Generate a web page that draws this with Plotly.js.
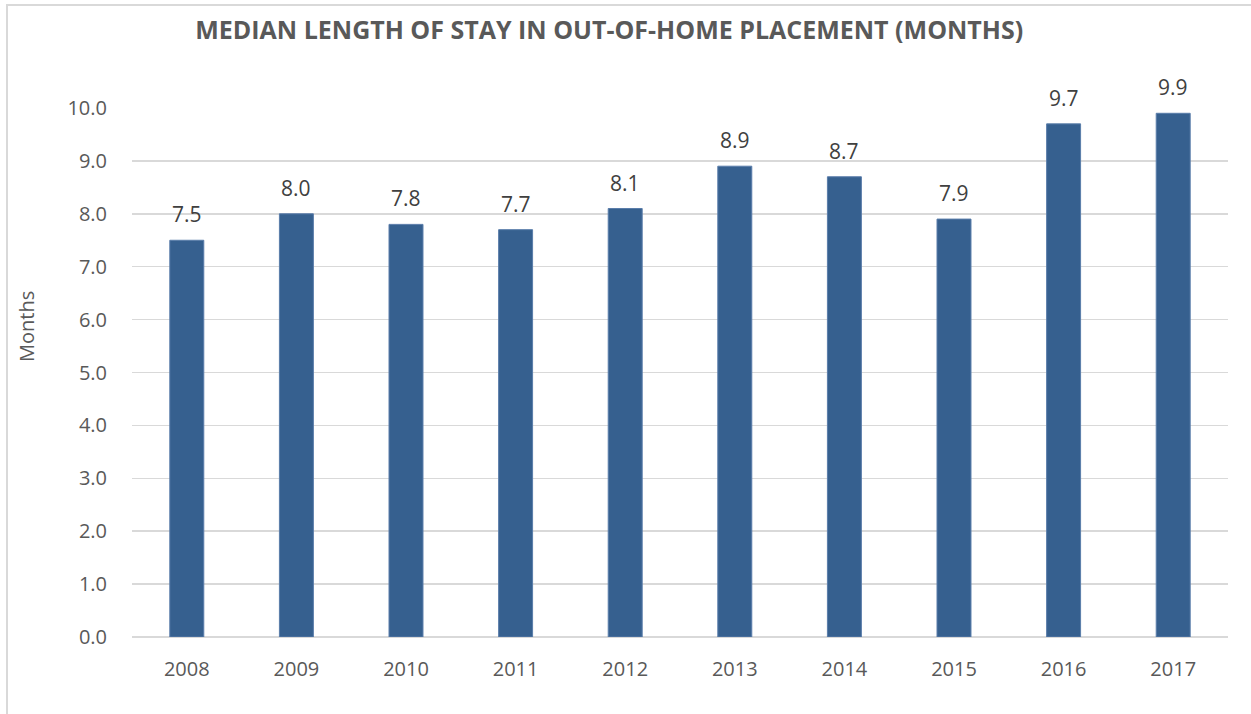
<!DOCTYPE html>
<html>
<head>
<meta charset="utf-8">
<script src="https://cdn.plot.ly/plotly-3.0.1.min.js"></script>
<style>
html,body{margin:0;padding:0;background:#fff;}
#frame{position:absolute;left:6px;top:4px;width:1260px;height:720px;border:2px solid #d9d9d9;box-sizing:border-box;}
#chart{position:absolute;left:0;top:0;width:1251px;height:714px;}
</style>
</head>
<body>
<div id="frame"></div>
<div id="chart"></div>
<script>
const years = ["2008","2009","2010","2011","2012","2013","2014","2015","2016","2017"];
const months = [7.5, 8.0, 7.8, 7.7, 8.1, 8.9, 8.7, 7.9, 9.7, 9.9];
const yTicks = [0,1,2,3,4,5,6,7,8,9,10];
const titleText = "MEDIAN LENGTH OF STAY IN OUT-OF-HOME PLACEMENT (MONTHS)";
const yTitle = "Months";

const font = "Open Sans, Lato, sans-serif";

const labelAnnotations = years.map((yr, i) => ({
  x: i, y: months[i], xref: "x", yref: "y",
  text: months[i].toFixed(1), showarrow: false,
  yanchor: "middle", xanchor: "center", yshift: 26,
  font: {family: font, size: 21, color: "#404040"}
}));

Plotly.newPlot("chart", [{
  type: "bar",
  x: years,
  y: months,
  marker: {color: "#36608f", line: {color: "#5a7daa", width: 1}},
  hoverinfo: "x+y"
}], {
  width: 1251, height: 714,
  paper_bgcolor: "rgba(0,0,0,0)",
  plot_bgcolor: "rgba(0,0,0,0)",
  margin: {l: 132, r: 23, t: 108, b: 77},
  bargap: 0.69,
  showlegend: false,
  title: {text: "<b>" + titleText + "</b>", x: 0.487, xanchor: "center", y: 0.958, yanchor: "middle",
          font: {family: font, size: 25, color: "#595959"}},
  annotations: labelAnnotations.concat([{
    xref: "paper", yref: "paper", x: -0.0967, y: 0.586, xanchor: "center", yanchor: "middle",
    text: yTitle, textangle: -90, showarrow: false,
    font: {family: font, size: 20, color: "#595959"}
  }]),
  xaxis: {
    type: "category",
    range: [-0.5, years.length - 0.5], autorange: false,
    showgrid: false, zeroline: false, showline: false,
    ticks: "outside", ticklen: 14, tickcolor: "rgba(0,0,0,0)",
    tickfont: {family: font, size: 20, color: "#595959"}
  },
  yaxis: {
    range: [0, 10], autorange: false,
    tickvals: yTicks, ticktext: yTicks.map(v => v.toFixed(1)),
    showgrid: true, gridcolor: "#d9d9d9", gridwidth: 1.5,
    zeroline: true, zerolinecolor: "#d9d9d9", zerolinewidth: 2,
    showline: false,
    ticks: "outside", ticklen: 20, tickcolor: "rgba(0,0,0,0)",
    tickfont: {family: font, size: 20, color: "#595959"}
  }
}, {displayModeBar: false, staticPlot: true});
</script>
</body>
</html>
